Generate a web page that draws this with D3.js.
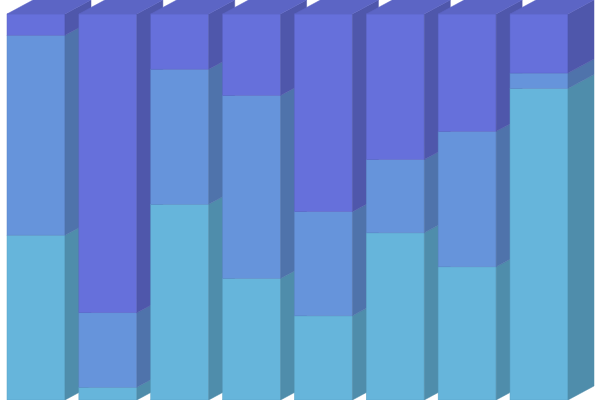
<!DOCTYPE html>
<html>
<head>
<meta charset="utf-8">
<script src="https://cdn.jsdelivr.net/npm/d3@7"></script>
<style>
html,body{margin:0;padding:0;background:#fff;overflow:hidden;}
svg{display:block;}
</style>
</head>
<body>
<svg id="chart" width="600" height="400"></svg>
<script>
const categories = ["A","B","C","D","E","F","G","H"];
const seriesNames = ["Series 1","Series 2","Series 3"];
const series1 = [42.7, 3.3, 50.7, 31.5, 21.8, 43.3, 34.5, 80.7];
const series2 = [51.8, 19.3, 35.0, 47.4, 27.0, 19.0, 35.1, 4.0];
const series3 = [5.5, 77.4, 14.3, 21.1, 51.2, 37.7, 30.4, 15.3];
const colors = ["#66b5db", "#6694db", "#6670db"];

const rows = categories.map((c, i) => ({cat: c, s0: series1[i], s1: series2[i], s2: series3[i]}));
const stack = d3.stack().keys(["s0","s1","s2"]).offset(d3.stackOffsetExpand);
const stacked = stack(rows);

const svg = d3.select("#chart");
const x = d3.scaleBand().domain(categories).range([0, 575]).paddingInner(0.193).paddingOuter(0.0974);
const y = d3.scaleLinear().domain([0, 1]).range([400, 14]);
const dx = 26, dy = 14;

categories.forEach((cat, i) => {
  const g = svg.append("g");
  const x0 = x(cat), x1 = x0 + x.bandwidth();
  stacked.forEach((layer, k) => {
    const d = layer[i];
    const yb = y(d[0]), yt = y(d[1]);
    const base = d3.color(colors[k]);
    const side = base.darker(0.7);
    // front
    g.append("rect").attr("x", x0).attr("y", yt).attr("width", x1 - x0).attr("height", yb - yt)
      .attr("fill", base.formatHex()).attr("stroke", base.darker(0.3).formatHex()).attr("stroke-width", 0.5);
    // side
    g.append("path").attr("d", `M${x1},${yt}L${x1+dx},${yt-dy}L${x1+dx},${yb-dy}L${x1},${yb}Z`)
      .attr("fill", side.formatHex()).attr("stroke", side.formatHex()).attr("stroke-width", 0.5);
    if (k === stacked.length - 1) {
      const top = base.darker(0.3);
      g.append("path").attr("d", `M${x0},${yt}L${x0+dx},${yt-dy}L${x1+dx},${yt-dy}L${x1},${yt}Z`)
        .attr("fill", top.formatHex()).attr("stroke", top.formatHex()).attr("stroke-width", 0.5);
    }
  });
});
</script>
</body>
</html>
